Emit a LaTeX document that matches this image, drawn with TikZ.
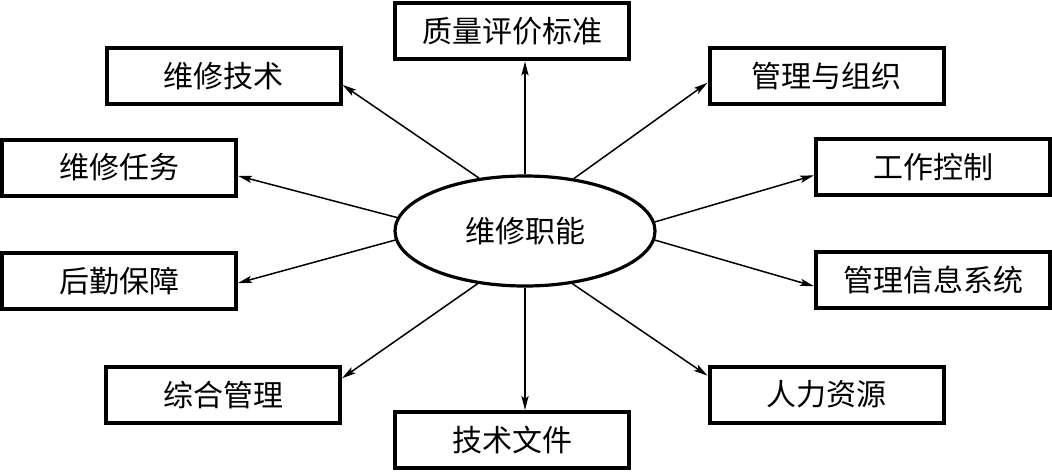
\documentclass[tikz,border=0pt]{standalone}
\usepackage{fontspec}
\newfontfamily\cjk{Noto Sans CJK SC}
\usetikzlibrary{arrows.meta, shapes.geometric}

\begin{document}
\begin{tikzpicture}[x=0.5pt, y=0.5pt,
        >={Stealth[length=7pt, width=3.6pt, inset=1.5pt]},
        funcbox/.style={draw, line width=2pt, minimum width=117pt, minimum height=28pt, inner sep=0pt, font=\cjk\fontsize{15pt}{18pt}\selectfont},
        hub/.style={draw, ellipse, line width=1.6pt, minimum width=130pt, minimum height=55pt, inner sep=0pt, font=\cjk\fontsize{15pt}{18pt}\selectfont},
        link/.style={->, line width=0.75pt}]
                    \useasboundingbox (0,0) rectangle (1052,472);

                    \node [hub] (ctr) at (525,241) {维修职能};

                    \node [funcbox] (qual) at (512,440.5) {质量评价标准};
                    \node [funcbox] (tech) at (223.5,395.5) {维修技术};
                    \node [funcbox] (org) at (826.5,395.5) {管理与组织};
                    \node [funcbox] (task) at (119,304.5) {维修任务};
                    \node [funcbox] (ctrl) at (933,305) {工作控制};
                    \node [funcbox] (logi) at (119,191) {后勤保障};
                    \node [funcbox] (mis) at (933,192) {管理信息系统};
                    \node [funcbox] (gen) at (223,77) {综合管理};
                    \node [funcbox] (hr) at (826.5,77.5) {人力资源};
                    \node [funcbox] (doc) at (512,32) {技术文件};

                    \draw[link] (ctr.north) -- (ctr.north |- qual.south);
                    \draw[link] (ctr.131.6) -- (tech.-4);
                    \draw[link] (ctr.47.2) -- (org.183.6);
                    \draw[link] (ctr.174.8) -- (task.-4);
                    \draw[link] (ctr.4.8) -- (ctrl.184);
                    \draw[link] (ctr.184.8) -- (logi.-1.7);
                    \draw[link] (ctr.-4.8) -- (mis.183.4);
                    \draw[link] (ctr.228.4) -- (gen.8.6);
                    \draw[link] (ctr.312) -- (hr.171.6);
                    \draw[link] (ctr.south) -- (ctr.south |- doc.north);

                \end{tikzpicture}
\end{document}
